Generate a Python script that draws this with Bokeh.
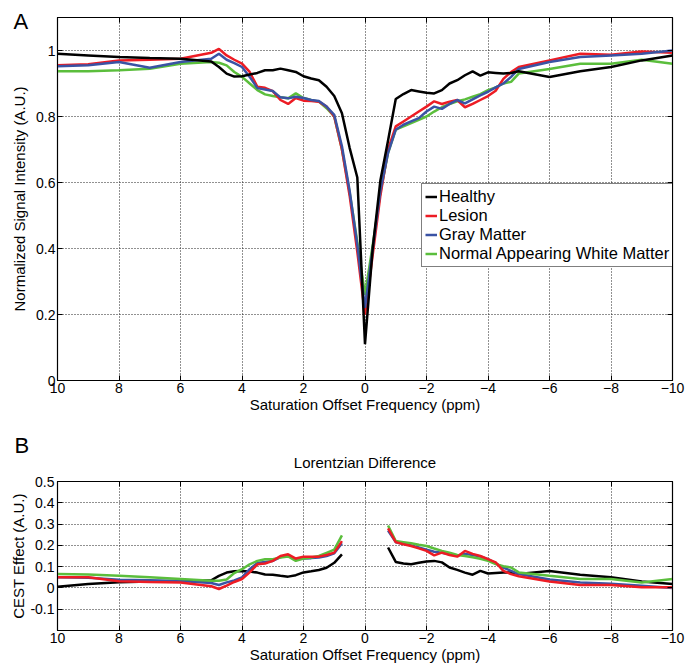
from bokeh.plotting import figure
from bokeh.models import Range1d, FixedTicker, LinearAxis, Legend, LegendItem, Title
from bokeh.layouts import column
from bokeh.embed import file_html
from bokeh.resources import INLINE

NaN = float("nan")

# ---------------- data ----------------
ppm_a = [10, 9, 8, 7, 6, 5, 4.75, 4.5, 4.25, 4, 3.75, 3.5, 3.25, 3, 2.75, 2.5, 2.25, 2,
         1.75, 1.5, 1.25, 1, 0.75, 0.5, 0.25, 0, -0.25, -0.5, -0.75, -1, -1.25, -1.5,
         -1.75, -2, -2.25, -2.5, -2.75, -3, -3.25, -3.5, -3.75, -4, -4.25, -4.5, -4.75,
         -5, -6, -7, -8, -9, -10]

healthy_a = [0.990, 0.985, 0.980, 0.977, 0.975, 0.967, 0.950, 0.930, 0.921, 0.922,
             0.927, 0.932, 0.940, 0.940, 0.945, 0.940, 0.935, 0.922, 0.915, 0.910,
             0.890, 0.862, 0.810, 0.705, 0.615, 0.110, 0.400, 0.606, 0.727, 0.853,
             0.868, 0.880, 0.876, 0.872, 0.870, 0.880, 0.900, 0.910, 0.925, 0.937,
             0.924, 0.934, 0.932, 0.930, 0.932, 0.937, 0.920, 0.937, 0.950, 0.970,
             0.985]
lesion_a = [0.955, 0.958, 0.970, 0.972, 0.975, 0.993, 1.005, 0.985, 0.972, 0.960,
            0.935, 0.890, 0.887, 0.877, 0.850, 0.838, 0.856, 0.848, 0.847, 0.845,
            0.830, 0.800, 0.700, 0.560, 0.390, 0.200, 0.380, 0.560, 0.700, 0.770,
            0.785, 0.800, 0.815, 0.830, 0.846, 0.838, 0.845, 0.850, 0.828, 0.838,
            0.850, 0.862, 0.878, 0.914, 0.935, 0.950, 0.970, 0.990, 0.987, 0.997,
            0.993]
gray_a = [0.952, 0.955, 0.965, 0.948, 0.965, 0.975, 0.990, 0.972, 0.962, 0.950,
          0.920, 0.886, 0.882, 0.877, 0.858, 0.855, 0.860, 0.856, 0.850, 0.847,
          0.830, 0.805, 0.710, 0.575, 0.410, 0.220, 0.400, 0.575, 0.690, 0.760,
          0.775, 0.785, 0.795, 0.815, 0.830, 0.823, 0.838, 0.850, 0.840, 0.852,
          0.864, 0.875, 0.888, 0.900, 0.920, 0.944, 0.965, 0.980, 0.985, 0.990,
          1.000]
nawm_a = [0.937, 0.937, 0.940, 0.945, 0.960, 0.965, 0.963, 0.955, 0.935, 0.920,
          0.900, 0.880, 0.867, 0.862, 0.858, 0.855, 0.870, 0.856, 0.850, 0.845,
          0.825, 0.800, 0.700, 0.570, 0.420, 0.260, 0.410, 0.570, 0.690, 0.760,
          0.770, 0.780, 0.790, 0.800, 0.815, 0.828, 0.838, 0.846, 0.852, 0.860,
          0.868, 0.880, 0.888, 0.900, 0.905, 0.930, 0.944, 0.960, 0.960, 0.972,
          0.960]

ppm_b = [10, 9, 8, 7, 6, 5, 4.75, 4.5, 4.25, 4, 3.75, 3.5, 3.25, 3, 2.75, 2.5, 2.25, 2,
         1.75, 1.5, 1.25, 1, 0.75, NaN, -0.75, -1, -1.25, -1.5, -1.75, -2, -2.25, -2.5,
         -2.75, -3, -3.25, -3.5, -3.75, -4, -4.25, -4.5, -4.75, -5, -6, -7, -8, -9, -10]

healthy_b = [0.005, 0.018, 0.027, 0.030, 0.033, 0.036, 0.057, 0.072, 0.078, 0.080,
             0.077, 0.072, 0.063, 0.062, 0.057, 0.053, 0.060, 0.073, 0.078, 0.084,
             0.095, 0.118, 0.158, NaN,
             0.190, 0.122, 0.115, 0.111, 0.118, 0.124, 0.127, 0.120, 0.096, 0.085,
             0.072, 0.062, 0.080, 0.068, 0.070, 0.072, 0.072, 0.066, 0.080, 0.062,
             0.050, 0.030, 0.019]
lesion_b = [0.050, 0.050, 0.031, 0.028, 0.026, 0.008, -0.005, 0.011, 0.028, 0.042,
            0.073, 0.111, 0.115, 0.127, 0.150, 0.158, 0.138, 0.147, 0.147, 0.147,
            0.155, 0.166, 0.220, NaN,
            0.280, 0.215, 0.205, 0.197, 0.186, 0.174, 0.153, 0.166, 0.155, 0.147,
            0.174, 0.160, 0.150, 0.135, 0.120, 0.080, 0.065, 0.055, 0.030, 0.014,
            0.014, 0.003, 0.003]
gray_b = [0.050, 0.048, 0.039, 0.036, 0.033, 0.023, 0.014, 0.026, 0.035, 0.050,
          0.088, 0.117, 0.122, 0.127, 0.145, 0.150, 0.135, 0.138, 0.140, 0.143,
          0.150, 0.163, 0.210, NaN,
          0.270, 0.215, 0.207, 0.200, 0.190, 0.180, 0.170, 0.165, 0.158, 0.152,
          0.160, 0.155, 0.148, 0.135, 0.115, 0.095, 0.080, 0.065, 0.040, 0.025,
          0.020, 0.010, 0.000]
nawm_b = [0.065, 0.063, 0.057, 0.050, 0.042, 0.034, 0.034, 0.040, 0.070, 0.088,
          0.111, 0.127, 0.135, 0.135, 0.143, 0.148, 0.127, 0.138, 0.143, 0.150,
          0.165, 0.180, 0.247, NaN,
          0.293, 0.220, 0.215, 0.210, 0.203, 0.197, 0.185, 0.174, 0.165, 0.155,
          0.150, 0.144, 0.137, 0.127, 0.112, 0.102, 0.096, 0.073, 0.057, 0.042,
          0.042, 0.026, 0.042]

series_names = ["Healthy", "Lesion", "Gray Matter", "Normal Appearing White Matter"]
x_ticks = [10, 8, 6, 4, 2, 0, -2, -4, -6, -8, -10]
x_tick_labels = ["10", "8", "6", "4", "2", "0", "\u22122", "\u22124", "\u22126", "\u22128", "\u221210"]
ya_ticks = [0, 0.2, 0.4, 0.6, 0.8, 1.0]
ya_tick_labels = ["0", "0.2", "0.4", "0.6", "0.8", "1"]
yb_ticks = [-0.1, 0, 0.1, 0.2, 0.3, 0.4, 0.5]
yb_tick_labels = ["-0.1", "0", "0.1", "0.2", "0.3", "0.4", "0.5"]

# ---------------- style ----------------
FONT = "Liberation Sans"
C_H, C_L, C_G, C_W = "#000000", "#ED1C24", "#3A53A4", "#5BBE3C"
LW = 2.5


def make_fig(height, y0, y1, yticks, ylabels, ylabel, b_left, b_right, b_top, b_bottom):
    p = figure(width=700, height=height, x_range=Range1d(10, -10), y_range=Range1d(y0, y1),
               output_backend="svg", toolbar_location=None,
               min_border_left=b_left, min_border_right=b_right,
               min_border_top=b_top, min_border_bottom=b_bottom)
    p.outline_line_color = "black"
    p.outline_line_width = 1.2
    p.background_fill_color = "white"
    p.border_fill_color = "white"
    xt = FixedTicker(ticks=x_ticks)
    yt = FixedTicker(ticks=yticks)
    xo = dict(zip(x_ticks, x_tick_labels))
    yo = dict(zip(yticks, ylabels))
    for ax, t, o in ((p.xaxis[0], xt, xo), (p.yaxis[0], yt, yo)):
        ax.ticker = t
        ax.major_label_overrides = o
        ax.major_tick_in = 5
        ax.major_tick_out = 0
        ax.minor_tick_line_color = None
        ax.major_tick_line_color = "black"
        ax.axis_line_color = "black"
        ax.major_label_text_font = FONT
        ax.major_label_text_font_size = "14px"
        ax.major_label_text_color = "black"
        ax.major_label_standoff = 2
        ax.axis_label_text_font = FONT
        ax.axis_label_text_font_size = "15px"
        ax.axis_label_text_font_style = "normal"
        ax.axis_label_text_color = "black"
    p.xaxis[0].axis_label = "Saturation Offset Frequency (ppm)"
    p.xaxis[0].axis_label_standoff = 0
    p.yaxis[0].axis_label = ylabel
    p.xgrid.ticker = xt
    p.ygrid.ticker = yt
    for g in (p.xgrid, p.ygrid):
        g.grid_line_color = "#222222"
        g.grid_line_dash = "1 2"
        g.grid_line_width = 1
    for side, t in (("right", yt), ("above", xt)):
        a = LinearAxis(ticker=t, major_label_text_font_size="0px", major_label_text_color=None,
                       major_label_standoff=0, major_tick_in=5, major_tick_out=0,
                       minor_tick_line_color=None, axis_line_color="black",
                       major_tick_line_color="black")
        p.add_layout(a, side)
    return p


def panel_letter(title, letter, offset, standoff):
    title.text = letter
    title.align = "left"
    title.vertical_align = "bottom"
    title.offset = offset
    title.standoff = standoff
    title.text_font = FONT
    title.text_font_size = "22px"
    title.text_font_style = "normal"
    title.text_color = "black"


# ---------------- panel A ----------------
pA = make_fig(420, 0, 1.1, ya_ticks, ya_tick_labels, "Normalized Signal Intensity (A.U.)",
              57, 27, 17, 40)
pA.yaxis[0].axis_label_standoff = 5
rW = pA.line(ppm_a, nawm_a, line_color=C_W, line_width=LW)
rL = pA.line(ppm_a, lesion_a, line_color=C_L, line_width=LW)
rG = pA.line(ppm_a, gray_a, line_color=C_G, line_width=LW)
rH = pA.line(ppm_a, healthy_a, line_color=C_H, line_width=LW)
legend = Legend(items=[LegendItem(label=series_names[0], renderers=[rH]),
                       LegendItem(label=series_names[1], renderers=[rL]),
                       LegendItem(label=series_names[2], renderers=[rG]),
                       LegendItem(label=series_names[3], renderers=[rW])],
                location=(364, 113), border_line_color="black", border_line_width=1,
                background_fill_color="white", background_fill_alpha=1,
                label_text_font=FONT, label_text_font_size="16.5px", label_text_color="black",
                glyph_width=12, glyph_height=19, label_height=19, label_standoff=2,
                padding=3, spacing=0, margin=0)
pA.add_layout(legend)
panel_letter(pA.title, "A", -44, -32)

# ---------------- panel B ----------------
pB = make_fig(245, -0.2, 0.5, yb_ticks, yb_tick_labels, "CEST Effect (A.U.)",
              56, 28, 61, 34)
pB.yaxis[0].axis_label_standoff = 0
pB.yaxis[0].major_label_standoff = 3
pB.title.text = ""
tL = Title(text="Lorentzian Difference", align="center", vertical_align="bottom",
           standoff=21, text_font=FONT, text_font_size="15px", text_font_style="normal",
           text_color="black")
pB.add_layout(tL, "above")
tB = Title()
panel_letter(tB, "B", -43, -33)
pB.add_layout(tB, "above")
pB.line(ppm_b, healthy_b, line_color=C_H, line_width=LW)
pB.line(ppm_b, gray_b, line_color=C_G, line_width=LW)
pB.line(ppm_b, nawm_b, line_color=C_W, line_width=LW)
pB.line(ppm_b, lesion_b, line_color=C_L, line_width=LW)

layout = column(pA, pB, spacing=0)
open("out.html", "w").write(file_html(layout, INLINE))
